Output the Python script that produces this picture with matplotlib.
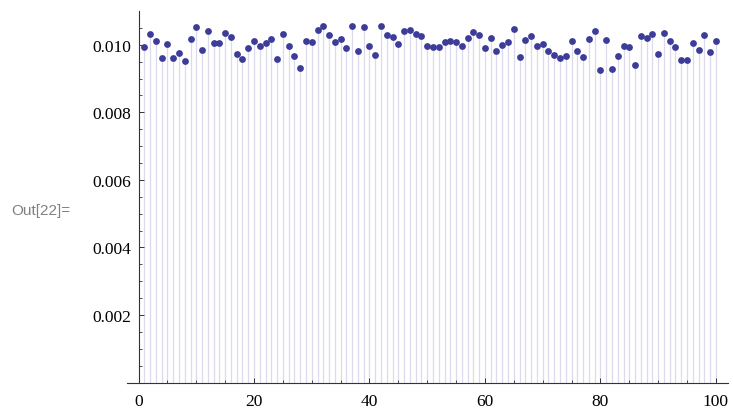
import matplotlib
matplotlib.use("Agg")
import matplotlib.pyplot as plt
from matplotlib.ticker import MultipleLocator, FixedLocator

x_values = list(range(1, 101))
y_values = [
    0.00994, 0.01032, 0.01012, 0.00961, 0.01003, 0.00962, 0.00975, 0.00953, 0.01016, 0.01054,
    0.00986, 0.01041, 0.01005, 0.01005, 0.01034, 0.01024, 0.00972, 0.00959, 0.00990, 0.01011,
    0.00997, 0.01005, 0.01018, 0.00959, 0.01031, 0.00995, 0.00967, 0.00932, 0.01012, 0.01009,
    0.01044, 0.01057, 0.01030, 0.01007, 0.01016, 0.00989, 0.01056, 0.00981, 0.01052, 0.00997,
    0.00970, 0.01056, 0.01029, 0.01024, 0.01002, 0.01042, 0.01044, 0.01031, 0.01027, 0.00996,
    0.00992, 0.00992, 0.01009, 0.01011, 0.01008, 0.00997, 0.01020, 0.01038, 0.01028, 0.00989,
    0.01020, 0.00982, 0.00998, 0.01009, 0.01048, 0.00965, 0.01014, 0.01026, 0.00997, 0.01002,
    0.00983, 0.00971, 0.00961, 0.00968, 0.01011, 0.00983, 0.00963, 0.01018, 0.01041, 0.00926,
    0.01015, 0.00929, 0.00968, 0.00997, 0.00994, 0.00940, 0.01026, 0.01020, 0.01031, 0.00974,
    0.01036, 0.01012, 0.00992, 0.00956, 0.00956, 0.01004, 0.00985, 0.01030, 0.00980, 0.01012,
]
x_ticks = [0, 20, 40, 60, 80, 100]
x_tick_labels = ["0", "20", "40", "60", "80", "100"]
y_ticks = [0.002, 0.004, 0.006, 0.008, 0.010]
y_tick_labels = ["0.002", "0.004", "0.006", "0.008", "0.010"]
out_label = "Out[22]="

W, H = 733, 410
fig = plt.figure(figsize=(W / 100, H / 100), dpi=100)
left, right, bottom, top = 127, 728, 383.5, 12
ax = fig.add_axes([left / W, 1 - bottom / H, (right - left) / W, (bottom - top) / H])

point_color = (0.24, 0.24, 0.60)
fill_color = (0.86, 0.86, 0.93)

ax.vlines(x_values, 0, y_values, colors=[fill_color], linewidth=0.9, zorder=1)
ax.plot(x_values, y_values, "o", color=point_color, markersize=4.9,
        markeredgewidth=0, zorder=3, clip_on=False)

ax.set_xlim(-2.0, 102.1)
ax.set_ylim(0, 0.0110)

for s in ["top", "right"]:
    ax.spines[s].set_visible(False)
ax.spines["left"].set_position(("data", 0))
for s in ["left", "bottom"]:
    ax.spines[s].set_color("#333333")
    ax.spines[s].set_linewidth(0.8)

ax.xaxis.set_major_locator(FixedLocator(x_ticks))
ax.set_xticklabels(x_tick_labels)
ax.xaxis.set_minor_locator(MultipleLocator(5))
ax.yaxis.set_major_locator(FixedLocator(y_ticks))
ax.set_yticklabels(y_tick_labels)
ax.yaxis.set_minor_locator(FixedLocator([i * 0.0005 for i in range(1, 22) if i % 4 != 0]))

ax.tick_params(axis="both", which="major", direction="in", length=3.8, width=0.7,
               color="#333333", labelsize=12.5, labelcolor="black")
ax.tick_params(axis="both", which="minor", direction="in", length=2.3, width=0.6,
               color="#333333")
ax.tick_params(axis="x", which="major", pad=7.5)
ax.tick_params(axis="y", which="major", pad=5)
for lab in ax.get_xticklabels() + ax.get_yticklabels():
    lab.set_fontfamily("Liberation Serif")

fig.text(11 / W, 1 - 211 / H, out_label, ha="left", va="center",
         fontsize=11, color="#808080", family="Liberation Sans")

fig.savefig("out.png", dpi=100)
